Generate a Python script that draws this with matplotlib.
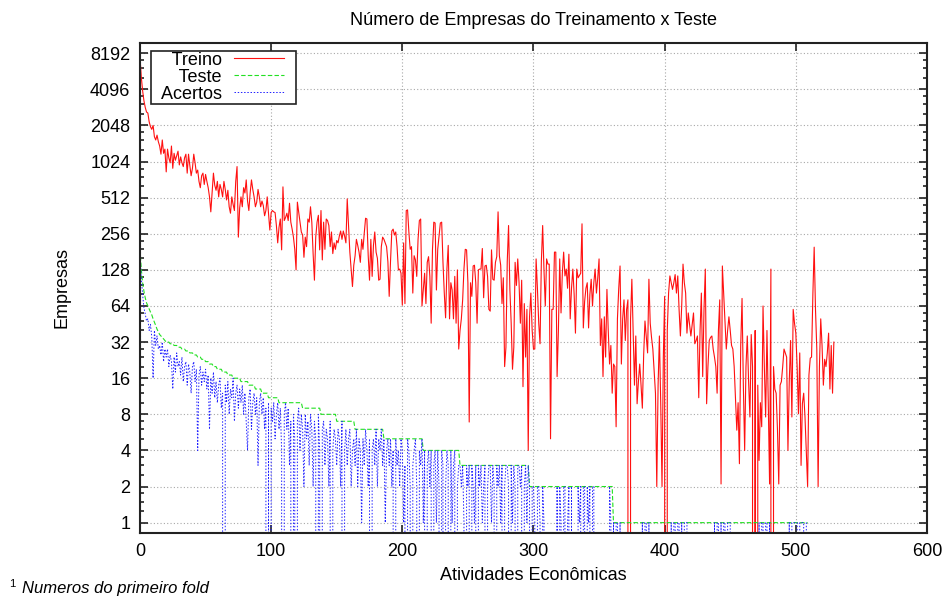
import numpy as np
import matplotlib
matplotlib.use("Agg")
from matplotlib import pyplot as plt
from matplotlib.legend_handler import HandlerLine2D
from matplotlib.lines import Line2D
from matplotlib.ticker import FixedLocator, FixedFormatter, NullFormatter

plt.rcParams['font.family'] = ['Liberation Sans', 'DejaVu Sans']

# empresas de treino por atividade economica (0..529)
treino = [
    7600, 5200, 4000, 3300, 2900, 2650, 2600, 2200, 2000, 1900,
    2050, 1650, 1550, 1700, 1500, 1380, 1180, 1550, 1200, 1300,
    840, 1300, 1100, 1000, 1380, 900, 1200, 1050, 1150, 1250,
    960, 1120, 1000, 930, 1100, 1180, 820, 1180, 950, 780,
    900, 1180, 1000, 820, 870, 700, 620, 780, 820, 660,
    800, 700, 620, 520, 390, 560, 820, 650, 590, 700,
    520, 660, 600, 520, 700, 600, 490, 590, 430, 380,
    520, 450, 400, 700, 930, 240, 420, 520, 430, 620,
    560, 720, 480, 400, 560, 720, 600, 520, 430, 470,
    600, 520, 430, 480, 440, 362, 400, 520, 380, 275,
    385, 400, 390, 385, 300, 215, 290, 340, 188, 630,
    330, 350, 380, 330, 460, 320, 280, 240, 190, 128,
    470, 390, 320, 265, 250, 163, 240, 200, 340, 320,
    430, 320, 175, 105, 240, 320, 365, 188, 400, 155,
    320, 190, 340, 330, 300, 200, 265, 175, 215, 190,
    225, 215, 245, 270, 230, 270, 245, 215, 500, 300,
    180, 130, 93, 140, 168, 230, 205, 180, 148, 230,
    190, 260, 345, 340, 168, 105, 230, 113, 205, 265,
    180, 160, 105, 107, 200, 240, 230, 215, 200, 150,
    77, 150, 270, 280, 250, 265, 200, 128, 130, 120,
    65, 215, 67, 400, 405, 265, 190, 200, 82, 168,
    155, 113, 230, 330, 340, 64, 87, 120, 67, 148,
    165, 113, 46, 190, 320, 315, 87, 190, 245, 315,
    320, 148, 82, 51, 130, 205, 50, 100, 87, 50,
    113, 46, 128, 28, 40, 50, 72, 130, 190, 188,
    100, 6.9, 100, 77, 138, 140, 100, 46, 128, 130,
    130, 193, 75, 138, 140, 113, 60, 58, 188, 107,
    105, 148, 165, 390, 168, 140, 67, 110, 20, 29,
    150, 300, 88, 46, 19, 29, 148, 95, 158, 100,
    46, 105, 13.6, 67, 24, 60, 4, 52, 82, 40,
    28, 28, 158, 90, 46, 31, 150, 300, 128, 64,
    158, 143, 143, 5, 60, 60, 180, 180, 16.5, 40,
    158, 56, 120, 180, 114, 130, 90, 173, 50, 90,
    130, 80, 38, 130, 110, 115, 120, 310, 42, 70,
    90, 100, 42, 80, 107, 64, 100, 130, 82, 110,
    158, 30, 50, 16.5, 52, 24, 88, 40, 21, 30,
    12, 21, 20, 6.3, 50, 90, 138, 21, 50, 72,
    33, 60, 72, 0, 50, 107, 40, 14, 36, 9.8,
    15, 21, 14, 9, 25, 48, 35, 26, 107, 46,
    35, 28, 18, 12, 2, 14, 36, 10, 2, 24,
    77, 0, 40, 82, 114, 100, 88, 100, 117, 82,
    114, 60, 36, 64, 143, 100, 82, 38, 56, 45,
    36, 45, 56, 31, 33, 36, 11, 40, 82, 16.5,
    60, 130, 9.8, 20, 33, 35, 36, 28, 24, 20,
    12, 40, 72, 2.1, 138, 80, 46, 28, 40, 52,
    40, 30, 28, 20, 11, 5.9, 10, 3.1, 30, 74,
    14, 4, 20, 36, 15, 7.6, 37, 20, 0, 40,
    0, 14, 3.3, 10, 6.3, 64, 20, 7.6, 40, 10,
    2.1, 130, 0, 20, 13, 12, 6, 2.1, 14, 15,
    20, 28, 26, 24, 4, 15, 33, 7.6, 60, 46,
    38, 20, 8.1, 26, 3, 9.8, 12, 7.6, 4, 2,
    17, 23.5, 24, 80, 198, 60, 28, 2, 20, 50,
    30, 14, 23, 20, 26, 38, 13, 30, 12, 32,
]

# empresas de teste: nivel e quantas atividades seguidas ficam nele
teste_nivel = [190, 130, 100, 85, 75, 68, 64, 60, 57, 54,
               50, 47, 44, 41, 39, 37, 36, 35, 34, 33,
               32, 31, 30, 29, 28, 27, 26, 25, 24, 23, 22, 21, 20,
               19, 18, 17, 16, 15, 14, 13, 12, 11, 10,
               9, 8, 7, 6, 5, 4, 3, 2, 1]
teste_qtd = [1] * 20 + [3] * 13 + [4, 4, 4, 6, 6, 5, 5, 5, 8, 18,
                                   14, 12, 14, 22, 30, 28, 53, 64, 149]

# acertos por atividade (0..509)
acertos = [
    170, 110, 80, 62, 55, 48, 50, 40, 45, 35,
    16, 40, 30, 36, 28, 30, 25, 32, 22, 28,
    24, 28, 20, 25, 22, 13, 24, 18, 26, 20,
    22, 17, 24, 15, 20, 22, 14, 21, 18, 12,
    20, 22, 15, 19, 4, 17, 20, 14, 18, 15,
    19, 13, 17, 6, 16, 12, 18, 11, 15, 10,
    14, 16, 9, 12, 0, 14, 10, 15, 8, 13,
    11, 16, 7, 12, 14, 9, 13, 10, 14, 8,
    12, 7, 4, 11, 13, 6, 10, 12, 8, 11,
    3, 10, 12, 8, 11, 6, 9, 0, 10, 0,
    9, 7, 10, 5, 8, 10, 6, 9, 4, 0,
    8, 10, 6, 9, 3, 7, 0, 8, 5, 0,
    7, 9, 4, 8, 6, 2, 8, 5, 7, 3,
    8, 6, 2, 7, 5, 0, 8, 4, 0, 6,
    7, 3, 6, 5, 2, 7, 0, 4, 6, 5,
    3, 6, 5, 2, 7, 0, 4, 6, 3, 5,
    6, 2, 4, 5, 3, 6, 2, 5, 4, 1,
    5, 3, 6, 4, 2, 5, 0, 4, 5, 3,
    6, 2, 5, 4, 6, 3, 5, 1, 4, 5,
    3, 5, 2, 4, 0, 5, 3, 4, 2, 5,
    4, 1, 3, 0, 5, 4, 2, 0, 3, 4,
    5, 2, 0, 4, 3, 5, 1, 4, 0, 3,
    4, 2, 4, 0, 3, 4, 1, 4, 2, 0,
    4, 3, 0, 2, 4, 3, 0, 4, 1, 3,
    4, 0, 2, 3, 3, 2, 3, 1, 0, 3,
    2, 3, 0, 3, 2, 1, 3, 0, 3, 2,
    3, 1, 2, 3, 0, 2, 3, 3, 1, 3,
    2, 0, 3, 2, 3, 1, 3, 0, 2, 3,
    3, 2, 0, 3, 1, 3, 2, 0, 3, 3,
    2, 3, 0, 2, 3, 1, 3, 2, 0, 2,
    2, 1, 0, 2, 2, 1, 0, 2, 1, 0,
    0, 0, 0, 0, 0, 0, 0, 0, 2, 0,
    2, 1, 0, 2, 2, 0, 1, 2, 0, 2,
    0, 0, 0, 0, 2, 1, 2, 0, 2, 2,
    0, 2, 1, 2, 0, 2, 2, 0, 0, 0,
    0, 0, 0, 0, 0, 0, 0, 0, 2, 1,
    0, 1, 0, 1, 1, 0, 1, 0, 0, 0,
    0, 0, 0, 0, 0, 0, 0, 0, 0, 0,
    0, 0, 0, 1, 0, 1, 1, 0, 1, 0,
    0, 0, 0, 0, 0, 0, 0, 0, 0, 0,
    0, 0, 0, 0, 0, 1, 0, 1, 1, 0,
    1, 1, 0, 1, 0, 1, 1, 1, 0, 0,
    0, 0, 0, 0, 0, 0, 0, 0, 0, 0,
    0, 0, 0, 0, 0, 0, 0, 0, 1, 0,
    1, 1, 0, 1, 0, 1, 1, 0, 1, 1,
    1, 0, 0, 0, 0, 0, 0, 0, 0, 0,
    0, 0, 0, 0, 0, 0, 0, 0, 0, 0,
    0, 0, 1, 0, 1, 1, 0, 1, 1, 0,
    1, 0, 0, 0, 0, 0, 0, 0, 0, 0,
    0, 0, 0, 0, 0, 1, 0, 1, 1, 1,
    1, 1, 0, 1, 1, 1, 1, 0, 1, 1,
]

y_ticks = [2 ** k for k in range(14)]

teste = np.repeat(teste_nivel, teste_qtd)


class LinhaCurta(HandlerLine2D):
    # deixa um respiro entre a amostra da linha e a borda da legenda
    def create_artists(self, legend, orig_handle, xdescent, ydescent,
                       width, height, fontsize, trans):
        return super().create_artists(legend, orig_handle, xdescent, ydescent,
                                      width - 0.6 * fontsize, height,
                                      fontsize, trans)


fig = plt.figure(figsize=(9.49, 6.0), dpi=100)
ax = fig.add_axes([0.1475, 0.1117, 0.8293, 0.8167])

ax.plot(np.arange(len(treino)), treino, color='#ff1010', lw=0.8,
        label='  Treino')
ax.plot(np.arange(len(teste)), teste, color='#22e022', lw=0.8,
        dashes=(4, 2), label='  Teste')
ax.plot(np.arange(len(acertos)), acertos, color='#2020ff', lw=0.7,
        dashes=(1.5, 1.8), label='  Acertos')

ax.set_yscale('log', base=2, nonpositive='clip')
ax.set_ylim(0.82, 9980)
ax.set_xlim(0, 600)
ax.yaxis.set_major_locator(FixedLocator(y_ticks))
ax.yaxis.set_major_formatter(FixedFormatter([str(v) for v in y_ticks]))
ax.yaxis.set_minor_locator(FixedLocator(
    [v * f for v in y_ticks for f in (1.25, 1.5, 1.75)]))
ax.yaxis.set_minor_formatter(NullFormatter())
ax.set_xticks(range(0, 601, 100))

ax.grid(True, which='major', color='#a8a8a8', lw=0.8, linestyle=(0, (1, 2)))
ax.tick_params(which='both', direction='in', top=True, right=True,
               labelsize=13, width=1.2, color='#222222')
ax.tick_params(which='major', length=6, pad=7)
ax.tick_params(which='minor', length=3)
for sp in ax.spines.values():
    sp.set_linewidth(1.5)
    sp.set_color('#222222')

ax.set_title('Número de Empresas do Treinamento x Teste', fontsize=13, pad=13)
ax.set_xlabel('Atividades Econômicas', fontsize=13, labelpad=5)
ax.set_ylabel('Empresas', fontsize=13, labelpad=14)

leg = ax.legend(loc='upper left', bbox_to_anchor=(0.014, 0.984), fontsize=13,
                markerfirst=False, handlelength=3.4, labelspacing=0.0,
                borderpad=0.05, handletextpad=0.65, fancybox=False,
                framealpha=1, borderaxespad=0,
                handler_map={Line2D: LinhaCurta()})
leg.get_frame().set_edgecolor('#222222')
leg.get_frame().set_linewidth(1.2)

fig.text(0.010, 0.022, '1', fontsize=8)
fig.text(0.023, 0.012, 'Numeros do primeiro fold', fontsize=12, style='italic')

fig.savefig('out.png', dpi=100)
